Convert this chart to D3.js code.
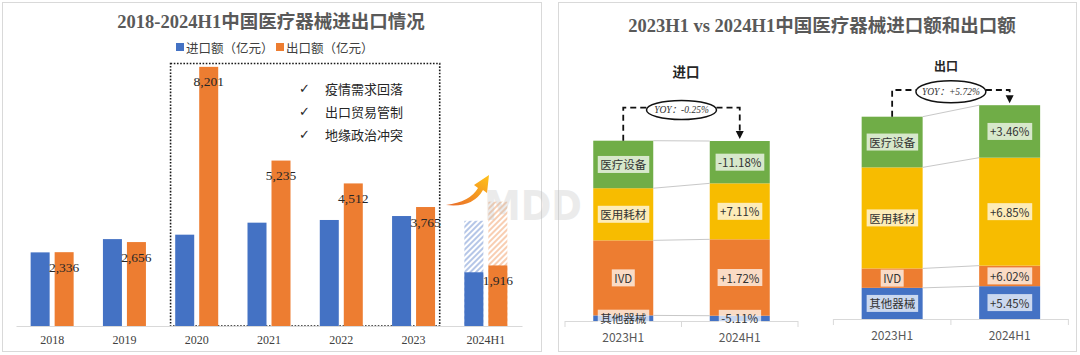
<!DOCTYPE html>
<html><head><meta charset="utf-8">
<script src="https://cdn.jsdelivr.net/npm/d3@7"></script>
<style>body{margin:0;background:#fff}svg{display:block}</style>
</head><body><svg id="c" width="1080" height="355"></svg>
<script>
// ---------- data: left chart ----------
const categories = ['2018','2019','2020','2021','2022','2023','2024H1'];
const importValues = [2330, 2750, 2890, 3270, 3355, 3480, 1700];
const exportValues = [2336, 2656, 8201, 5235, 4512, 3765, 1916];
const estimateCategory = '2024H1';
const importEstimate = 3330;
const exportEstimate = 3935;
const seriesNames = ['进口额（亿元）', '出口额（亿元）'];
const notes = ['疫情需求回落', '出口贸易管制', '地缘政治冲突'];
const highlightCats = ['2020', '2023'];

// ---------- data: right chart ----------
const periods = ['2023H1', '2024H1'];
const segments = ['其他器械', 'IVD', '医用耗材', '医疗设备'];
const importSeg2023 = [53, 709, 493, 449];
const importSeg2024 = [50, 722, 529, 400];
const exportSeg2023 = [279, 174, 905, 454];
const exportSeg2024 = [294, 184, 967, 470];
const importChange = ['-5.11%', '+1.72%', '+7.11%', '-11.18%'];
const exportChange = ['+5.45%', '+6.02%', '+6.85%', '+3.46%'];
const importYoy = 'YOY：-0.25%';
const exportYoy = 'YOY：+5.72%';

// ---------- styles ----------
const BLUE = '#4472c4', ORANGE = '#ed7d31', YELLOW = '#f7bc00', GREEN = '#70ad47';
const segColor = d3.scaleOrdinal().domain(segments).range([BLUE, ORANGE, YELLOW, GREEN]);
const SANS = '"Noto Sans CJK SC","Noto Sans",sans-serif';
const SERIF = '"Liberation Serif","Times New Roman","Noto Sans CJK SC",serif';

const svg = d3.select('#c');
const defs = svg.append('defs');
function hatch(id, color) {
  const p = defs.append('pattern').attr('id', id).attr('width', 4).attr('height', 4)
    .attr('patternUnits', 'userSpaceOnUse').attr('patternTransform', 'rotate(45)');
  p.append('rect').attr('width', 4).attr('height', 4).attr('fill', '#fff');
  p.append('line').attr('x1', 1).attr('y1', 0).attr('x2', 1).attr('y2', 4)
    .attr('stroke', color).attr('stroke-width', 1.5);
}
hatch('hb', '#9db3e0');
hatch('ho', '#f6be99');
const grad = defs.append('linearGradient').attr('id', 'ag')
  .attr('x1', 0).attr('y1', 1).attr('x2', 1).attr('y2', 0);
grad.append('stop').attr('offset', '0%').attr('stop-color', '#e8692a');
grad.append('stop').attr('offset', '100%').attr('stop-color', '#ffc21a');

// panels
svg.append('rect').attr('x', 2.5).attr('y', 2.5).attr('width', 539).attr('height', 349)
  .attr('fill', '#fff').attr('stroke', '#d9d9d9');
svg.append('rect').attr('x', 558.5).attr('y', 2.5).attr('width', 518).attr('height', 349)
  .attr('fill', '#fff').attr('stroke', '#d9d9d9');

// ================= LEFT CHART =================
const L = svg.append('g');
L.append('text').attr('x', 271).attr('y', 22).attr('text-anchor', 'middle')
  .attr('dominant-baseline', 'central').attr('font-family', SERIF).attr('font-weight', 'bold')
  .attr('font-size', 18.5).attr('fill', '#595959').text('2018-2024H1中国医疗器械进出口情况');

// legend
const legX = [176, 276];
seriesNames.forEach((n, i) => {
  L.append('rect').attr('x', legX[i]).attr('y', 43).attr('width', 8).attr('height', 8)
    .attr('fill', i ? ORANGE : BLUE);
  L.append('text').attr('x', legX[i] + 10).attr('y', 47).attr('dominant-baseline', 'central')
    .attr('font-family', SANS).attr('font-size', 12.5).attr('fill', '#404040').text(n);
});

const x = d3.scaleBand().domain(categories).range([16, 522]);
const xs = d3.scaleBand().domain(['imp', 'exp']).range([-21.5, 21.5]).paddingInner(0.2083);
const y = d3.scaleLinear().domain([0, 9000]).range([326, 41.6]);
const cx = c => x(c) + x.bandwidth() / 2;

// dotted highlight box
const bx0 = x(highlightCats[0]) + 10, bx1 = x(highlightCats[1]) + x.bandwidth() - 10;
L.append('rect').attr('x', bx0).attr('y', 63.5).attr('width', bx1 - bx0).attr('height', y(0) - 63.5)
  .attr('fill', 'none').attr('stroke', '#1a1a1a').attr('stroke-width', 1.6)
  .attr('stroke-dasharray', '1.6,1.6');

// estimate hatched bars
L.append('rect').attr('x', cx(estimateCategory) + xs('imp')).attr('y', y(importEstimate))
  .attr('width', xs.bandwidth()).attr('height', y(0) - y(importEstimate)).attr('fill', 'url(#hb)');
L.append('rect').attr('x', cx(estimateCategory) + xs('exp')).attr('y', y(exportEstimate))
  .attr('width', xs.bandwidth()).attr('height', y(0) - y(exportEstimate)).attr('fill', 'url(#ho)');

const rowsL = categories.map((c, i) => ({ c, imp: importValues[i], exp: exportValues[i] }));
L.selectAll('rect.imp').data(rowsL).join('rect').attr('class', 'imp')
  .attr('x', d => cx(d.c) + xs('imp')).attr('y', d => y(d.imp))
  .attr('width', xs.bandwidth()).attr('height', d => y(0) - y(d.imp)).attr('fill', BLUE);
L.selectAll('rect.exp').data(rowsL).join('rect').attr('class', 'exp')
  .attr('x', d => cx(d.c) + xs('exp')).attr('y', d => y(d.exp))
  .attr('width', xs.bandwidth()).attr('height', d => y(0) - y(d.exp)).attr('fill', ORANGE);
L.selectAll('text.lab').data(rowsL).join('text').attr('class', 'lab')
  .attr('x', d => cx(d.c) + xs('exp') + xs.bandwidth() / 2).attr('y', d => y(d.exp) + 15)
  .attr('text-anchor', 'middle').attr('dominant-baseline', 'central')
  .attr('font-family', SERIF).attr('font-size', 13.5).attr('fill', '#262626')
  .text(d => d3.format(',')(d.exp));

// axis
const ax = L.append('g').attr('transform', `translate(0,${y(0)})`)
  .call(d3.axisBottom(x).tickSize(0).tickPadding(9));
ax.select('.domain').attr('stroke', '#d9d9d9');
ax.selectAll('text').attr('font-family', SERIF).attr('font-size', 12).attr('fill', '#404040');

// notes
notes.forEach((n, i) => {
  const yy = 88 + i * 23;
  L.append('text').attr('x', 299).attr('y', yy).attr('dominant-baseline', 'central')
    .attr('font-family', '"DejaVu Sans",sans-serif').attr('font-size', 13).attr('fill', '#262626').text('✓');
  L.append('text').attr('x', 325).attr('y', yy).attr('dominant-baseline', 'central')
    .attr('font-family', SANS).attr('font-size', 13).attr('fill', '#262626').text(n);
});

// growth arrow
L.append('path')
  .attr('d', 'M446,205 Q470,202 478,188 L474,185 L489,175 L487,193 L483,190 Q473,208 446,205 Z')
  .attr('fill', 'url(#ag)');

// watermark
svg.append('text').attr('x', 484).attr('y', 220).attr('font-family', '"DejaVu Sans",sans-serif')
  .attr('font-weight', 'bold').attr('font-size', 40).attr('fill', '#bfbfbf').attr('opacity', 0.3)
  .attr('textLength', 98).attr('lengthAdjust', 'spacingAndGlyphs').text('MDD');

// ================= RIGHT CHART =================
svg.append('text').attr('x', 822).attr('y', 26).attr('text-anchor', 'middle')
  .attr('dominant-baseline', 'central').attr('font-family', SERIF).attr('font-weight', 'bold')
  .attr('font-size', 18.5).attr('fill', '#595959').text('2023H1 vs 2024H1中国医疗器械进口额和出口额');

function stacked(o) {
  const g = svg.append('g');
  const xb = d3.scaleBand().domain(periods).range([o.x0, o.x1]).paddingInner(o.pi).paddingOuter(o.pi / 2);
  const total0 = d3.sum(o.vals[0]);
  const ys = d3.scaleLinear().domain([0, total0]).range([o.base, o.topY]);
  const rows = periods.map((p, i) => {
    const r = { period: p };
    segments.forEach((s, j) => r[s] = o.vals[i][j]);
    return r;
  });
  const st = d3.stack().keys(segments)(rows);
  const bw = xb.bandwidth();
  const mid = p => xb(p) + bw / 2;

  // head
  g.append('text').attr('x', o.headX).attr('y', o.headY).attr('text-anchor', 'middle')
    .attr('dominant-baseline', 'central').attr('font-family', SANS).attr('font-weight', 'bold')
    .attr('font-size', o.headSize).attr('fill', '#262626').text(o.head);

  // bars
  g.selectAll('g.layer').data(st).join('g').attr('fill', d => segColor(d.key))
    .selectAll('rect').data(d => d).join('rect')
    .attr('x', d => xb(d.data.period)).attr('y', d => ys(d[1]))
    .attr('width', bw).attr('height', d => ys(d[0]) - ys(d[1]));

  // connectors
  st.forEach(layer => {
    g.append('line').attr('x1', xb(periods[0]) + bw).attr('y1', ys(layer[0][1]))
      .attr('x2', xb(periods[1])).attr('y2', ys(layer[1][1]))
      .attr('stroke', '#c8c8c8').attr('stroke-width', 1);
  });

  // axis
  g.append('line').attr('x1', o.x0).attr('x2', o.x1).attr('y1', o.base + 0.5).attr('y2', o.base + 0.5)
    .attr('stroke', '#d9d9d9');
  [o.x0, o.x0 + xb.step(), o.x1].forEach(t => g.append('line').attr('x1', t).attr('x2', t)
    .attr('y1', o.base).attr('y2', o.base + 6).attr('stroke', '#d9d9d9'));
  periods.forEach(p => g.append('text').attr('x', mid(p)).attr('y', o.base + 15)
    .attr('text-anchor', 'middle').attr('dominant-baseline', 'central')
    .attr('font-family', SANS).attr('font-size', 12).attr('fill', '#595959').text(p));

  // labels with boxes
  st.forEach((layer, j) => {
    layer.forEach((d, i) => {
      const txt = i === 0 ? layer.key : o.changes[j];
      const lg = g.append('g');
      const t = lg.append('text').attr('x', mid(d.data.period)).attr('y', ys((d[0] + d[1]) / 2))
        .attr('text-anchor', 'middle').attr('dominant-baseline', 'central')
        .attr('font-family', SANS).attr('font-size', 11.5).attr('fill', '#333').text(txt);
      const b = t.node().getBBox();
      lg.insert('rect', 'text').attr('x', b.x - 2.5).attr('y', b.y - 0.5)
        .attr('width', b.width + 5).attr('height', b.height + 1)
        .attr('fill', '#fff').attr('fill-opacity', 0.72);
    });
  });

  // YOY annotation
  const lx = mid(periods[0]), rx = mid(periods[1]);
  const ecx = (lx + rx) / 2;
  const tip = ys(d3.sum(o.vals[1])) - 2;
  const dash = { stroke: '#111', 'stroke-width': 1.8, 'stroke-dasharray': '6,4', fill: 'none' };
  const p1 = g.append('path').attr('d', `M${lx},${o.topY} V${o.level} H${ecx - o.rx}`);
  const p2 = g.append('path').attr('d', `M${ecx + o.rx},${o.level} H${rx} V${tip - 7}`);
  [p1, p2].forEach(p => Object.entries(dash).forEach(([k, v]) => p.attr(k, v)));
  g.append('path').attr('d', `M${rx - 4},${tip - 8} L${rx + 4},${tip - 8} L${rx},${tip} Z`).attr('fill', '#111');
  g.append('ellipse').attr('cx', ecx).attr('cy', o.ecy).attr('rx', o.rx).attr('ry', o.ry)
    .attr('fill', '#fff').attr('stroke', '#111').attr('stroke-width', 1.5);
  g.append('text').attr('x', ecx).attr('y', o.ecy).attr('text-anchor', 'middle')
    .attr('dominant-baseline', 'central').attr('font-family', SERIF).attr('font-style', 'italic')
    .attr('font-size', 9.5).attr('fill', '#333').text(o.yoy);
}

stacked({
  x0: 565, x1: 798, pi: 0.485, base: 321, topY: 140.7,
  vals: [importSeg2023, importSeg2024], changes: importChange, yoy: importYoy,
  level: 107.7, ecy: 110, rx: 35, ry: 9.5,
  head: '进口', headX: 686, headY: 71, headSize: 13.5
});
stacked({
  x0: 833.4, x1: 1068.4, pi: 0.481, base: 319, topY: 116.7,
  vals: [exportSeg2023, exportSeg2024], changes: exportChange, yoy: exportYoy,
  level: 90, ecy: 91.7, rx: 35, ry: 11,
  head: '出口', headX: 946, headY: 65, headSize: 12
});
</script></body></html>
